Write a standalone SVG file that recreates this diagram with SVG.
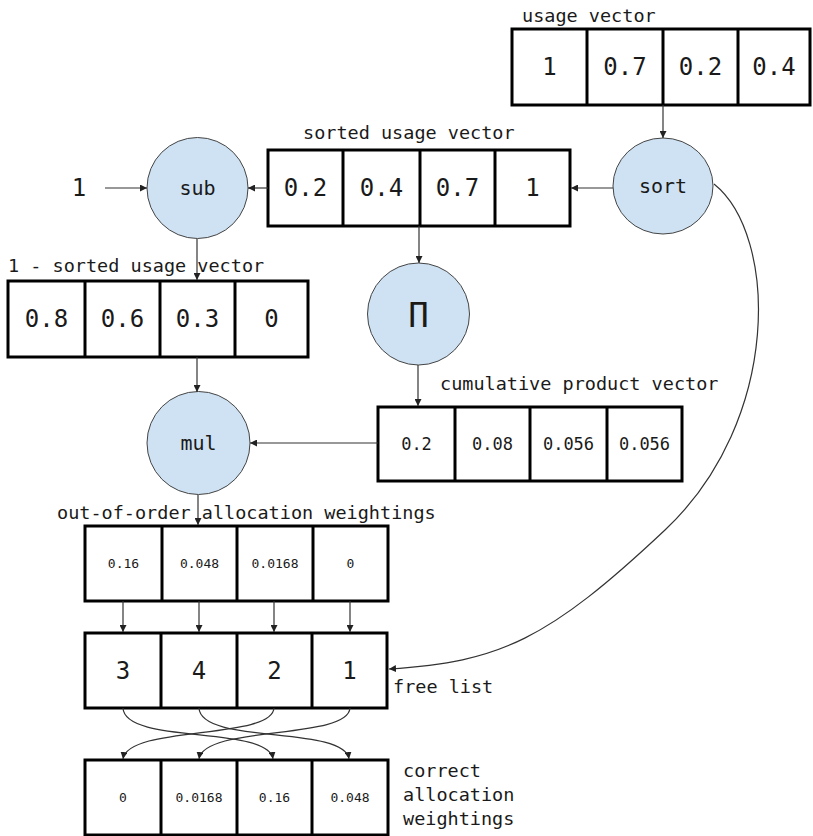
<svg xmlns="http://www.w3.org/2000/svg" width="813" height="836" viewBox="0 0 813 836">
<defs>
<marker id="ah" viewBox="0 0 10 10" refX="10" refY="5" markerWidth="7" markerHeight="7" markerUnits="userSpaceOnUse" orient="auto">
<path d="M0,0 L10,5 L0,10 z" fill="#222"/>
</marker>
</defs>
<style>
text{font-family:"DejaVu Sans Mono","Liberation Mono",monospace;fill:#1a1a1a}
.box{fill:#fff;stroke:#000;stroke-width:3}
.div{stroke:#000;stroke-width:3}
.op{fill:#cfe2f3;stroke:#444;stroke-width:1}
.lbl{font-size:18.5px}
.v24{font-size:24px;text-anchor:middle}
.v17{font-size:17px;text-anchor:middle}
.v13{font-size:13px;text-anchor:middle}
.opt{font-size:20px;text-anchor:middle}
.c{fill:none;stroke:#333;stroke-width:1.2;marker-end:url(#ah)}
</style>
<rect width="813" height="836" fill="#fff"/>

<g id="usage-vector">
<text class="lbl" x="522" y="22">usage vector</text>
<rect class="box" x="512" y="29" width="298" height="76"/>
<line class="div" x1="587" y1="29" x2="587" y2="105"/>
<line class="div" x1="663" y1="29" x2="663" y2="105"/>
<line class="div" x1="738" y1="29" x2="738" y2="105"/>
<text class="v24" x="549.5" y="75">1</text>
<text class="v24" x="625" y="75">0.7</text>
<text class="v24" x="700.5" y="75">0.2</text>
<text class="v24" x="774" y="75">0.4</text>
</g>

<g id="sort">
<ellipse class="op" cx="663" cy="186" rx="50" ry="48"/>
<text class="opt" x="663" y="193">sort</text>
</g>

<g id="sorted-usage-vector">
<text class="lbl" x="303" y="139">sorted usage vector</text>
<rect class="box" x="268" y="150" width="302" height="76"/>
<line class="div" x1="343" y1="150" x2="343" y2="226"/>
<line class="div" x1="420" y1="150" x2="420" y2="226"/>
<line class="div" x1="495" y1="150" x2="495" y2="226"/>
<text class="v24" x="305.5" y="196">0.2</text>
<text class="v24" x="381.5" y="196">0.4</text>
<text class="v24" x="457.5" y="196">0.7</text>
<text class="v24" x="532.5" y="196">1</text>
</g>

<g id="one-input">
<text class="v24" x="79" y="196">1</text>
</g>

<g id="sub">
<circle class="op" cx="197.5" cy="188" r="50.5"/>
<text class="opt" x="197.5" y="195">sub</text>
</g>

<g id="one-minus-sorted">
<text class="lbl" x="8" y="272">1 - sorted usage vector</text>
<rect class="box" x="8" y="281" width="300" height="76"/>
<line class="div" x1="85" y1="281" x2="85" y2="357"/>
<line class="div" x1="160" y1="281" x2="160" y2="357"/>
<line class="div" x1="235" y1="281" x2="235" y2="357"/>
<text class="v24" x="46.5" y="327">0.8</text>
<text class="v24" x="122.5" y="327">0.6</text>
<text class="v24" x="197.5" y="327">0.3</text>
<text class="v24" x="271.5" y="327">0</text>
</g>

<g id="cumprod">
<circle class="op" cx="418.5" cy="314" r="51"/>
<text x="418.5" y="327" style="font-size:34px;text-anchor:middle">Π</text>
</g>

<g id="cumulative-product-vector">
<text class="lbl" x="440" y="390">cumulative product vector</text>
<rect class="box" x="378" y="407" width="304" height="74"/>
<line class="div" x1="455" y1="407" x2="455" y2="481"/>
<line class="div" x1="530" y1="407" x2="530" y2="481"/>
<line class="div" x1="607" y1="407" x2="607" y2="481"/>
<text class="v17" x="416.5" y="450">0.2</text>
<text class="v17" x="492.5" y="450">0.08</text>
<text class="v17" x="568.5" y="450">0.056</text>
<text class="v17" x="644.5" y="450">0.056</text>
</g>

<g id="mul">
<circle class="op" cx="198.5" cy="443" r="51.5"/>
<text class="opt" x="198.5" y="450">mul</text>
</g>

<g id="out-of-order">
<text class="lbl" x="57" y="519">out-of-order allocation weightings</text>
<rect class="box" x="85" y="526" width="303" height="75"/>
<line class="div" x1="162" y1="526" x2="162" y2="601"/>
<line class="div" x1="237" y1="526" x2="237" y2="601"/>
<line class="div" x1="313" y1="526" x2="313" y2="601"/>
<text class="v13" x="123.5" y="568">0.16</text>
<text class="v13" x="199.5" y="568">0.048</text>
<text class="v13" x="275" y="568">0.0168</text>
<text class="v13" x="350.5" y="568">0</text>
</g>

<g id="free-list">
<rect class="box" x="85" y="633" width="302" height="75"/>
<line class="div" x1="161" y1="633" x2="161" y2="708"/>
<line class="div" x1="237" y1="633" x2="237" y2="708"/>
<line class="div" x1="312" y1="633" x2="312" y2="708"/>
<text class="v24" x="123" y="679">3</text>
<text class="v24" x="199" y="679">4</text>
<text class="v24" x="274.5" y="679">2</text>
<text class="v24" x="349.5" y="679">1</text>
<text class="lbl" x="393" y="693">free list</text>
</g>

<g id="correct-allocation">
<rect class="box" x="85" y="760" width="303" height="75"/>
<line class="div" x1="161" y1="760" x2="161" y2="835"/>
<line class="div" x1="237" y1="760" x2="237" y2="835"/>
<line class="div" x1="312" y1="760" x2="312" y2="835"/>
<text class="v13" x="123" y="802">0</text>
<text class="v13" x="199" y="802">0.0168</text>
<text class="v13" x="274.5" y="802">0.16</text>
<text class="v13" x="350" y="802">0.048</text>
<text class="lbl" x="403" y="777">correct</text>
<text class="lbl" x="403" y="801">allocation</text>
<text class="lbl" x="403" y="825">weightings</text>
</g>

<g id="connectors">
<path class="c" d="M663,105 L663,138"/>
<path class="c" d="M613,188 L571,188"/>
<path class="c" d="M268,188 L248,188"/>
<path class="c" d="M105,188 L147,188"/>
<path class="c" d="M197,239 L197,280"/>
<path class="c" d="M419,226 L419,263"/>
<path class="c" d="M418,365 L418,406"/>
<path class="c" d="M197,357 L197,392"/>
<path class="c" d="M378,443 L250,443"/>
<path class="c" d="M198,495 L198,525"/>
<path class="c" d="M123,601 L123,632"/>
<path class="c" d="M199,601 L199,632"/>
<path class="c" d="M274,601 L274,632"/>
<path class="c" d="M350,601 L350,632"/>
<path class="c" d="M714,184 C778,235 782,420 665,530 S500,662 389,669"/>
<path class="c" d="M123,708 C125,745 268,725 273,759"/>
<path class="c" d="M199,708 C201,745 344,725 349,759"/>
<path class="c" d="M274,708 C272,740 128,725 123,759"/>
<path class="c" d="M350,708 C348,740 204,725 199,759"/>
</g>
</svg>
